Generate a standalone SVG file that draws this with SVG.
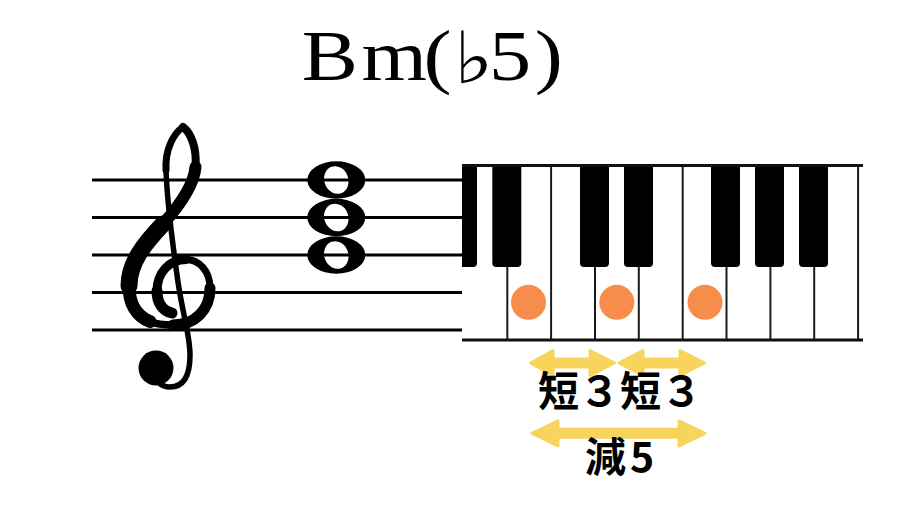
<svg xmlns="http://www.w3.org/2000/svg" width="900" height="506" viewBox="0 0 900 506">
  <style>
    .staff { stroke: #000; stroke-width: 3; }
    .sep { stroke: #1a1a1a; stroke-width: 2; }
    .edge { stroke: #111; stroke-width: 3; }
    .clef { fill: none; stroke: #000; stroke-linecap: round; stroke-linejoin: round; }
    .dot { fill: #F78D4B; }
    .arrow { fill: #F8D45C; stroke: #F8D45C; stroke-width: 3; stroke-linejoin: round; }
    .title { font-family: "Liberation Serif", "DejaVu Serif", serif; font-size: 72px; fill: #000; }
    .flat { font-family: "DejaVu Sans", "DejaVu Serif", sans-serif; font-size: 72px; font-weight: 700; }
    .lbl { font-family: "Noto Sans CJK JP", "Noto Sans", sans-serif; font-weight: 700; font-size: 41px; fill: #000; }
  </style>
  <defs>
    <path id="wholenote" fill-rule="evenodd" d="M -29 0 a 29 18.7 0 1 0 58 0 a 29 18.7 0 1 0 -58 0 Z M -11.28 4.1 a 12 14 -20 1 0 22.56 -8.2 a 12 14 -20 1 0 -22.56 8.2 Z"/>
    <path id="blackkey" d="M0 0 H29 V98 Q29 102 25 102 H4 Q0 102 0 98 Z"/>
  </defs>
  <rect width="900" height="506" fill="#fff"/>

  <g id="title">
    <text class="title" transform="translate(303,80) scale(1.17,1)" y="0"><tspan x="-1">B</tspan><tspan x="50">m</tspan><tspan x="103">(</tspan><tspan class="flat" x="129" dy="3">♭</tspan><tspan x="159" dy="-3">5</tspan><tspan x="198">)</tspan></text>
  </g>

  <g id="staff">
    <line class="staff" x1="92" y1="180" x2="462" y2="180"/>
    <line class="staff" x1="92" y1="217.5" x2="462" y2="217.5"/>
    <line class="staff" x1="92" y1="255" x2="462" y2="255"/>
    <line class="staff" x1="92" y1="292.5" x2="462" y2="292.5"/>
    <line class="staff" x1="92" y1="330" x2="462" y2="330"/>
  </g>

  <g id="treble-clef">
    <path class="clef" stroke-width="7" d="M183 127 C173 134 165 150 166 170"/>
    <path class="clef" stroke-width="5.5" d="M166 170 C167 200 172 240 178 282 C183 316 190 335 190 355 C190 376 184 387 170 387 C165 387 161 385 158 382"/>
    <path class="clef" stroke-width="8" d="M183 127 C191 133 197 148 195.5 167"/>
    <path class="clef" stroke-width="12" d="M195.5 167 C194 185 180 205 163 224"/>
    <path class="clef" stroke-width="17" d="M163 224 C145 243 129 262 129 286"/>
    <path class="clef" stroke-width="13" d="M129 286 C129 303 136 316 150 321.5"/>
    <path class="clef" stroke-width="7.5" d="M150 321.5 C157 324.5 165 325 173 325"/>
    <path class="clef" stroke-width="11" d="M173 325 C195 325 210 310 210 288"/>
    <path class="clef" stroke-width="7" d="M210 288 C210 271 199 259.5 186 259.5"/>
    <path class="clef" stroke-width="9" d="M186 259.5 C169 259.5 157 273 157 291"/>
    <path class="clef" stroke-width="11" d="M157 291 C157 303 163 311 172 313"/>
    <circle cx="156" cy="368" r="17.5" fill="#000"/>
  </g>

  <g id="chord">
    <use href="#wholenote" x="336.3" y="180"/>
    <use href="#wholenote" x="336.3" y="217.5"/>
    <use href="#wholenote" x="336.3" y="255"/>
  </g>

  <g id="keyboard">
    <rect x="462" y="165" width="401" height="175" fill="#fff"/>
    <line class="sep" x1="507.3" y1="165" x2="507.3" y2="340"/>
    <line class="sep" x1="551.1" y1="165" x2="551.1" y2="340"/>
    <line class="sep" x1="595" y1="165" x2="595" y2="340"/>
    <line class="sep" x1="638.8" y1="165" x2="638.8" y2="340"/>
    <line class="sep" x1="682.7" y1="165" x2="682.7" y2="340"/>
    <line class="sep" x1="726.5" y1="165" x2="726.5" y2="340"/>
    <line class="sep" x1="770.4" y1="165" x2="770.4" y2="340"/>
    <line class="sep" x1="814.2" y1="165" x2="814.2" y2="340"/>
    <line class="sep" x1="858.1" y1="165" x2="858.1" y2="340"/>
    <path d="M462 165 H477 V263 Q477 267 473 267 H462 Z" fill="#000"/>
    <use href="#blackkey" x="492.3" y="165"/>
    <use href="#blackkey" x="580" y="165"/>
    <use href="#blackkey" x="624" y="165"/>
    <use href="#blackkey" x="711" y="165"/>
    <use href="#blackkey" x="755" y="165"/>
    <use href="#blackkey" x="799" y="165"/>
    <line class="edge" x1="462" y1="165.5" x2="863" y2="165.5"/>
    <line class="edge" x1="462" y1="340" x2="863" y2="340"/>
  </g>

  <g id="chord-tones">
    <circle class="dot" cx="528.5" cy="302.3" r="17.5"/>
    <circle class="dot" cx="616.8" cy="302.3" r="17.5"/>
    <circle class="dot" cx="705" cy="302.3" r="17.5"/>
  </g>

  <g id="connectors">
    <polygon class="arrow" points="530.5,363 553,350.5 553,359 590,359 590,350.5 614.5,363 590,375.5 590,367 553,367 553,375.5"/>
    <polygon class="arrow" points="619,363 643,350.5 643,359 680,359 680,350.5 704.5,363 680,375.5 680,367 643,367 643,375.5"/>
    <polygon class="arrow" points="532,433.3 558,420.8 558,429.3 679,429.3 679,420.8 705,433.3 679,445.8 679,437.3 558,437.3 558,445.8"/>
  </g>

  <g id="labels">
    <text class="lbl" x="538" y="406">短３</text>
    <text class="lbl" x="620" y="406">短３</text>
    <text class="lbl" x="585" y="472">減<tspan dx="4">5</tspan></text>
  </g>
</svg>
